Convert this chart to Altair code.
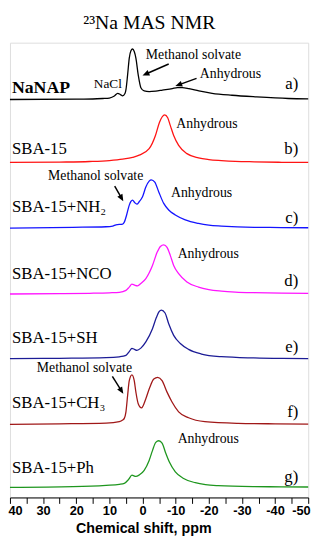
import math
import altair as alt
import pandas as pd

# ---- spectra (chemical shift in ppm, intensity in arbitrary units) ----
PPM_A = [40, 20, 15, 12, 10, 8.5, 7.5, 6.7, 6.0, 5.3, 5.0, 4.5, 4.0, 3.5, 3.0, 2.5, 2.0, 1.3, 0.5, -0.5,
         -2.0, -4.0, -6.0, -9.0, -10.5, -12.0, -14.0, -17.0, -21.0, -27.0, -34.0, -44.0, -50.0]
INT_A = [0, 0.3, 0.5, 1.0, 1.5, 3.5, 6.3, 5.0, 3.7, 6.0, 10.0, 25, 42, 49.5, 51.3, 48.7, 42, 25, 12, 8.7,
         8.0, 8.5, 9.5, 11.0, 12.0, 12.0, 11.0, 8.7, 6.3, 4.3, 2.7, 1.0, 0.7]

PPM_B = [40, 25, 16, 10, 6, 3, 1.0, -2.0, -3.9, -5.1, -5.9, -6.7, -7.6, -8.4, -9.4, -10.9, -13.4,
         -16.9, -20, -23.8, -28, -33.7, -42, -50]
INT_B = [0.3, 0.7, 1.3, 2.3, 3.7, 5.5, 7.7, 14.3, 27.7, 41, 46.5, 48.7, 45.7, 37.7, 27.7, 17.7, 9.3,
         5.0, 3.3, 2.3, 1.5, 1.0, 0.5, 0.3]

PPM_C = [40, 21, 11, 9.0, 8.0, 6.0, 5.5, 4.8, 4.0, 3.5, 3.0, 2.4, 1.7, 1.0, 0.0, -1.0, -2.0, -2.65,
         -3.7, -4.9, -6.4, -7.9, -9.9, -12.9, -16.9, -20, -23.8, -33.7, -42, -50]
INT_C = [0, 0.7, 1.3, 2.0, 3.3, 4.0, 6.0, 13.3, 23.3, 27, 28.3, 26, 24.3, 26.7, 31.7, 41.7, 47.7, 49,
         46.7, 36.7, 25, 18.3, 13.3, 8.3, 4.7, 3.0, 2.0, 0.7, 0.5, 0.3]

PPM_D = [40, 25, 16, 10, 7.0, 5.0, 4.0, 3.2, 2.4, 1.5, 0.5, -1.0, -3.0, -4.4, -5.4, -6.4, -7.4, -8.4,
         -9.4, -10.9, -13.4, -16.9, -20, -23.8, -28, -33.7, -42, -50]
INT_D = [0, 0.3, 0.7, 1.2, 1.7, 3.7, 7.0, 10, 9.0, 8.3, 10.7, 15.7, 29, 42.3, 48.3, 50, 47.3, 39,
         29, 20.7, 12.3, 7.0, 4.5, 3.0, 2.0, 1.3, 0.8, 0.7]

PPM_E = [40, 25, 11, 7, 5.0, 4.0, 3.2, 2.4, 1.7, 0.5, -1.0, -3.0, -4.2, -5.0, -5.7, -6.8, -7.9, -9.4,
         -11.4, -13.9, -17.8, -23.8, -33.7, -42, -50]
INT_E = [0.3, 0.7, 1.3, 2.2, 3.7, 7.5, 10.7, 9.7, 8.7, 11, 17.3, 30.7, 42.3, 48, 49.7, 46.7, 35.7, 24,
         15.7, 9.7, 5.0, 2.3, 1.0, 0.5, 0.3]

PPM_F = [40, 25, 11, 7.0, 6.0, 5.5, 5.0, 4.5, 4.0, 3.2, 2.5, 2.0, 1.3, 0.3, -1.0, -2.2, -3.4, -4.6,
         -5.9, -7.4, -8.9, -10.9, -13.9, -18.8, -28.8, -40, -50]
INT_F = [0, 0.5, 1.3, 2.7, 4.3, 6.0, 12.7, 29.3, 44.3, 50.3, 44.3, 32.7, 21, 16.7, 26, 37.7, 46, 47.7,
         44.3, 32.7, 22.7, 12.7, 6.7, 2.7, 1.0, 0.5, 0.3]

PPM_G = [40, 21, 11, 7, 5.5, 4.2, 3.2, 2.0, 1.0, -0.5, -2.0, -3.0, -4.0, -4.9, -5.9, -6.9, -8.1, -9.9,
         -12.4, -15.9, -19, -22.8, -33.7, -42, -50]
INT_G = [0, 0.7, 2.0, 3.0, 4.0, 8.0, 12.3, 11, 12.5, 17.3, 27.3, 37.3, 45.7, 47.3, 45, 35.7, 25.7, 15.7,
         9.0, 4.7, 2.7, 1.7, 0.7, 0.5, 0.3]

SAMPLES = ["NaNAP", "SBA-15", "SBA-15+NH₂", "SBA-15+NCO", "SBA-15+SH", "SBA-15+CH₃", "SBA-15+Ph"]
LETTERS = ["a)", "b)", "c)", "d)", "e)", "f)", "g)"]
X_TICKS = [40, 35, 30, 25, 20, 15, 10, 5, 0, -5, -10, -15, -20, -25, -30, -35, -40, -45, -50]

# ---- layout / style ----
COLORS = ["#000000", "#ff1414", "#1414ff", "#ff14ff", "#1c1c96", "#a01818", "#1e961e"]
OFFSETS = [404.3, 340, 273.7, 206.7, 140.7, 74.3, 10.3]   # vertical stacking of the traces
W, H = 303, 462
X_DOMAIN = [40, -50]
Y_DOMAIN = [0, H]
SERIF = "Liberation Serif"
SANS = "Liberation Sans"

spectra = [(PPM_A, INT_A), (PPM_B, INT_B), (PPM_C, INT_C), (PPM_D, INT_D),
           (PPM_E, INT_E), (PPM_F, INT_F), (PPM_G, INT_G)]
rows = []
for name, (pp, ii), off in zip(SAMPLES, spectra, OFFSETS):
    for p, v in zip(pp, ii):
        rows.append({"sample": name, "ppm": p, "y": off + v})
spec_df = pd.DataFrame(rows)

x_axis = alt.Axis(values=X_TICKS,
                  labelExpr="datum.value % 10 === 0 ? (datum.value < 0 ? '-' + abs(datum.value) : '' + datum.value) : ''",
                  tickSize=6, tickColor="black", tickWidth=1, domainColor="black", domainWidth=1,
                  labelFont=SANS, labelFontWeight="bold", labelFontSize=13, labelColor="black",
                  labelPadding=1, labelFlush=True, labelFlushOffset=2, labelOverlap=False,
                  title="Chemical shift, ppm", titleFont=SANS, titleFontWeight="bold",
                  titleFontSize=14.5, titleColor="black", titleX=135.5, titleY=36,
                  titleBaseline="alphabetic", titleAlign="center", grid=False)
X = alt.X("ppm:Q", scale=alt.Scale(domain=X_DOMAIN, nice=False, zero=False), axis=x_axis)
Y = alt.Y("y:Q", scale=alt.Scale(domain=Y_DOMAIN, nice=False, zero=False), axis=None)

lines = alt.Chart(spec_df).mark_line(interpolate="monotone", strokeWidth=1.3).encode(
    x=X, y=Y,
    color=alt.Color("sample:N", scale=alt.Scale(domain=SAMPLES, range=COLORS), legend=None),
)

# sample names on the left, letters on the right
name_df = pd.DataFrame({"ppm": [39.4] * 7,
                        "y": [411.3, 348.7, 290.3, 222.3, 157.3, 91.3, 25.3],
                        "text": SAMPLES,
                        "bold": [True, False, False, False, False, False, False]})
names_bold = alt.Chart(name_df[name_df.bold]).mark_text(
    font=SERIF, fontSize=18, fontWeight="bold", align="left", baseline="alphabetic", color="black"
).encode(x=X, y=Y, text="text:N")
names = alt.Chart(name_df[~name_df.bold]).mark_text(
    font=SERIF, fontSize=17, align="left", baseline="alphabetic", color="black"
).encode(x=X, y=Y, text="text:N")

letter_df = pd.DataFrame({"ppm": [-47.0] * 7,
                          "y": [415.3, 349.0, 278.7, 215, 148, 82, 16],
                          "text": LETTERS})
letters = alt.Chart(letter_df).mark_text(
    font=SERIF, fontSize=17, align="right", baseline="alphabetic", color="black"
).encode(x=X, y=Y, text="text:N")

# peak annotations
ann_df = pd.DataFrame({
    "ppm": [-1.0, -17.3, -10.2, 28.5, -8.6, -10.6, 31.9, -10.6],
    "y": [445.7, 426.3, 375, 322, 305.3, 243, 127.7, 55],
    "text": ["Methanol solvate", "Anhydrous", "Anhydrous", "Methanol solvate", "Anhydrous",
             "Anhydrous", "Methanol solvate", "Anhydrous"],
})
ann = alt.Chart(ann_df).mark_text(
    font=SERIF, fontSize=14, align="left", baseline="alphabetic", color="black"
).encode(x=X, y=Y, text="text:N")
nacl = alt.Chart(pd.DataFrame({"ppm": [14.7], "y": [416.3], "text": ["NaCl"]})).mark_text(
    font=SERIF, fontSize=13.5, align="left", baseline="alphabetic", color="black"
).encode(x=X, y=Y, text="text:N")

# arrows: tail (ppm, y) -> head (ppm, y)
ARROWS = [(-7.9, 440.3, 0.0, 428.7), (-16.3, 425.7, -9.9, 418.0),
          (8.4, 316.3, 5.8, 301.0), (9.1, 123.0, 5.8, 105.3)]
k = W / 90.0
shaft_rows, head_rows = [], []
for tp, ty, hp, hy in ARROWS:
    dx = (tp - hp) * k
    dy = ty - hy
    L = math.hypot(dx, dy)
    ux, uy = dx / L, dy / L
    ang = math.degrees(math.atan2(dx, -dy)) % 360
    shaft_rows.append({"ppm": tp, "y": ty, "ppm2": hp + 5 * ux / k, "y2": hy + 5 * uy})
    head_rows.append({"ppm": hp, "y": hy, "angle": ang})
shafts = alt.Chart(pd.DataFrame(shaft_rows)).mark_rule(color="black", strokeWidth=1.5).encode(
    x=X, y=Y, x2="ppm2:Q", y2="y2:Q")
heads = alt.Chart(pd.DataFrame(head_rows)).mark_point(
    shape="M0,0L0.85,2L-0.85,2Z", filled=True, size=49, color="black", opacity=1, strokeWidth=0
).encode(x=X, y=Y, angle=alt.Angle("angle:Q", scale=None))

title = alt.Chart(pd.DataFrame({"t": ["²³Na MAS NMR"]})).mark_text(
    font=SERIF, fontSize=20, align="center", baseline="alphabetic", color="black"
).encode(x=alt.value(141.5), y=alt.value(-14), text="t:N")

chart = alt.layer(lines, names_bold, names, letters, ann, nacl, shafts, heads, title).properties(
    width=W, height=H,
    autosize=alt.AutoSizeParams(type="none"),
    padding={"left": 2, "top": 31, "right": 14, "bottom": 40},
).configure_view(stroke="black", strokeWidth=1.2).configure(background="white")

chart.save("out.html", embed_options={"renderer": "svg", "actions": False})
